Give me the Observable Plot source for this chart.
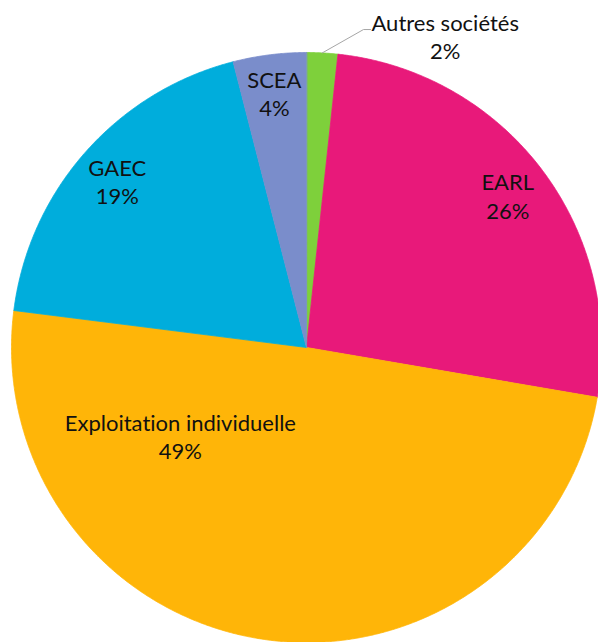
<!DOCTYPE html>
<html>
<head>
<meta charset="utf-8">
<script src="https://cdn.jsdelivr.net/npm/d3@7"></script>
<script src="https://cdn.jsdelivr.net/npm/@observablehq/plot@0.6"></script>
<style>
  html, body { margin: 0; padding: 0; background: #fff; overflow: hidden; }
  #chart svg { display: block; }
  #chart svg text { font-variant-ligatures: none; font-feature-settings: "liga" 0; }
</style>
</head>
<body>
<div id="chart"></div>
<script>
// ---- data (clockwise from 12 o'clock) ----
const categories = ["Autres sociétés", "EARL", "Exploitation individuelle", "GAEC", "SCEA"];
const shares = [1.7, 26.0, 49.3, 19.0, 4.0];
const colors = ["#7ED03B", "#E8197A", "#FFB508", "#00ADDC", "#7A8DCB"];

// ---- layout (not data) ----
const W = 598, H = 642;
const R = 295, CX = 306, CY = 347;          // pixel centre / radius of pie
const labelDefault = {r: 0.855};
const labelOverride = {
  "SCEA": {r: 0.87},
  "Exploitation individuelle": {angle: 235, r: 0.522},
  "Autres sociétés": {angle: 24, r: 1.156}
};
const leader = {elbowAngle: 10.16, elbowR: 1.095, tail: 0.024};

// ---- build slices from data ----
const total = d3.sum(shares);
let cum = 0;
const slices = categories.map((c, i) => {
  const a0 = cum / total * 360;
  cum += shares[i];
  const a1 = cum / total * 360;
  return {category: c, value: shares[i], a0, a1, mid: (a0 + a1) / 2};
});
const rad = a => a * Math.PI / 180;
const px = (a, r) => r * Math.sin(rad(a));
const py = (a, r) => r * Math.cos(rad(a));

const polys = [];
for (const s of slices) {
  polys.push({category: s.category, x: 0, y: 0});
  const n = Math.max(2, Math.ceil((s.a1 - s.a0) / 0.25));
  for (let k = 0; k <= n; k++) {
    const a = s.a0 + (s.a1 - s.a0) * k / n;
    polys.push({category: s.category, x: px(a, 1), y: py(a, 1)});
  }
}

const labels = slices.map(s => {
  const o = Object.assign({angle: s.mid}, labelDefault, labelOverride[s.category] || {});
  return {
    category: s.category,
    text: s.category + "\n" + Math.round(s.value / total * 100) + "%",
    x: px(o.angle, o.r), y: py(o.angle, o.r)
  };
});

const autres = slices[0];
const ex = px(leader.elbowAngle, leader.elbowR), ey = py(leader.elbowAngle, leader.elbowR);
const leaderPts = [
  {x: px(autres.mid, 1), y: py(autres.mid, 1)},
  {x: ex, y: ey},
  {x: ex + leader.tail, y: ey}
];

const chart = Plot.plot({
  width: W, height: H,
  margin: 0,
  x: {domain: [-CX / R, (W - CX) / R], axis: null},
  y: {domain: [-(H - CY) / R, CY / R], axis: null},
  color: {domain: categories, range: colors},
  style: {fontFamily: "Lato, 'Open Sans', sans-serif", background: "#fff"},
  marks: [
    Plot.line(polys, {x: "x", y: "y", z: "category", fill: "category", stroke: "category",
                      strokeWidth: 0.8, curve: "linear-closed", clip: true}),
    Plot.line(leaderPts, {x: "x", y: "y", stroke: "#A6A6A6", strokeWidth: 1}),
    Plot.text(labels, {x: "x", y: "y", text: "text", fontSize: 22, lineHeight: 1.3,
                       textAnchor: "middle", lineAnchor: "middle", fill: "#111"})
  ]
});
document.getElementById("chart").append(chart);
</script>
</body>
</html>
